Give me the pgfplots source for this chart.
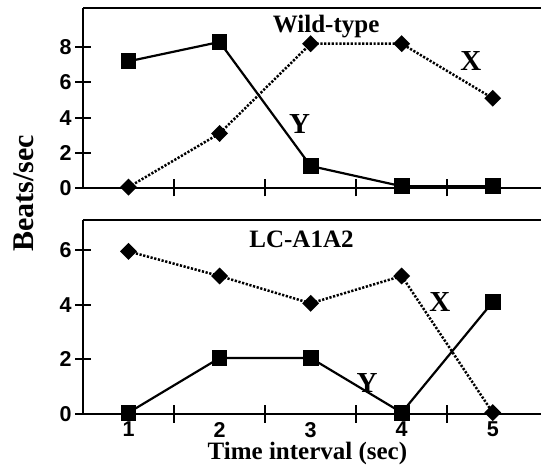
\documentclass[border=0pt]{standalone}
\usepackage{fontspec}
\setmainfont{Liberation Serif}
\setsansfont{Liberation Sans}
\usepackage{pgfplots}
\pgfplotsset{compat=1.18}
\pgfplotsset{
  panel/.style={
    scale only axis, width=458pt,
    xmin=0.5, xmax=5.53, ymin=0,
    axis x line*=box, axis y line*=left,
    xtick pos=left,
    axis line style={line width=2pt},
    xtick={1,2,3,4,5},
    minor xtick={1.5,2.5,3.5,4.5},
    tick align=center,
    major tick length=16pt, minor tick length=17pt,
    tick style={line width=2pt, black},
    major x tick style={draw=none},
    /pgf/number format/assume math mode=true,
    tick label style={font=\fontsize{21.5}{22}\selectfont\sffamily\bfseries},
    xticklabel style={yshift=3.5pt},
    clip=false,
  },
  Yser/.style={black, line width=2.2pt, mark=square*, mark size=6.8pt, mark options={solid}},
  Xser/.style={black, line width=2.5pt, dash pattern=on 2.2pt off 1.6pt, mark=diamond*, mark size=6.7pt, mark options={solid, xscale=1.33}},
}
\tikzset{
  lab/.style={font=\fontsize{25}{26}\selectfont\bfseries, anchor=base},
  xy/.style={font=\fontsize{29}{30}\selectfont\bfseries, anchor=base},
}
\begin{document}
\begin{tikzpicture}
\begin{axis}[panel, at={(83pt,278pt)}, anchor=south west, height=180pt,
  ymax=10.23, ytick={0,2,4,6,8}, xticklabels={}]
\addplot[Yser] coordinates {(1,7.2) (2,8.3) (3,1.25) (4,0.1) (5,0.1)};
\addplot[Xser] coordinates {(1,0.05) (2,3.1) (3,8.2) (4,8.2) (5,5.1)};
\node[lab] at (axis cs:3.17,8.86) {Wild-type};
\node[xy] at (axis cs:4.76,6.7) {X};
\node[xy] at (axis cs:2.88,3.1) {Y};
\end{axis}
\begin{axis}[panel, at={(83pt,52pt)}, anchor=south west, height=194pt,
  ymax=7.1, ytick={0,2,4,6},
  xlabel={Time interval (sec)}, ylabel={Beats/sec},
  every axis x label/.style={at={(axis description cs:0.49,-0.237)}, anchor=base, inner sep=1pt, font=\fontsize{25}{26}\selectfont\bfseries},
  every axis y label/.style={at={(axis description cs:-0.109,1.137)}, rotate=90, anchor=base, font=\fontsize{30}{31}\selectfont\bfseries}]
\addplot[Yser] coordinates {(1,0.05) (2,2.05) (3,2.05) (4,0.05) (5,4.1)};
\addplot[Xser] coordinates {(1,5.95) (2,5.05) (3,4.05) (4,5.05) (5,0.05)};
\node[lab] at (axis cs:2.9,6.08) {LC-A1A2};
\node[xy] at (axis cs:4.42,3.74) {X};
\node[xy] at (axis cs:3.62,0.77) {Y};
\end{axis}
\pgfresetboundingbox
\path (0,0) rectangle (541pt,466pt);
\end{tikzpicture}
\end{document}
